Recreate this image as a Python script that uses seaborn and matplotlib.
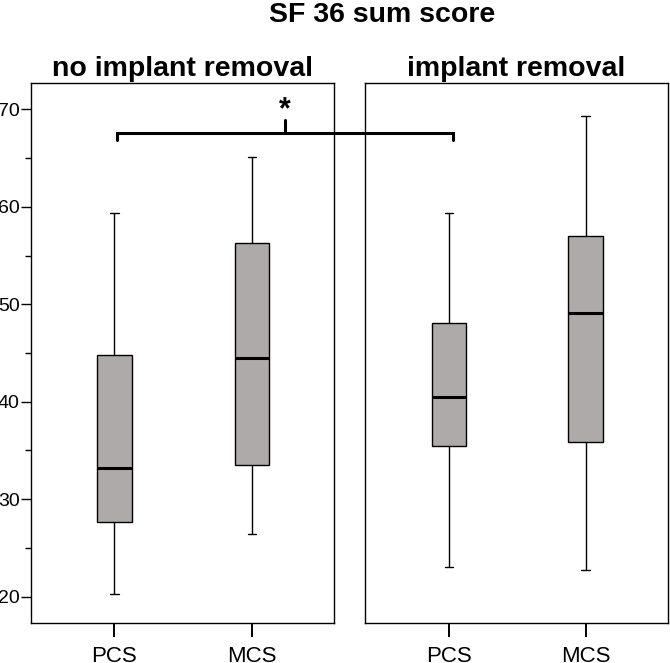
import pandas as pd
import matplotlib.pyplot as plt
import seaborn as sns
from matplotlib.ticker import MultipleLocator
from matplotlib.lines import Line2D

# five-number summaries: min, Q1, median, Q3, max
measures = ["PCS", "MCS"]
groups = ["no implant removal", "implant removal"]
pcs_no_removal = [20.3, 27.7, 33.2, 44.8, 59.4]
mcs_no_removal = [26.4, 33.5, 44.5, 56.3, 65.1]
pcs_removal = [23.0, 35.5, 40.5, 48.1, 59.4]
mcs_removal = [22.7, 35.9, 49.1, 57.0, 69.3]

rows = []
for grp, pcs, mcs in [(groups[0], pcs_no_removal, mcs_no_removal),
                      (groups[1], pcs_removal, mcs_removal)]:
    for m, vals in zip(measures, [pcs, mcs]):
        for v in vals:
            rows.append({"group": grp, "measure": m, "score": v})
df = pd.DataFrame(rows)

sns.set_style("white")
plt.rcParams["font.family"] = ["Liberation Sans", "DejaVu Sans"]
plt.rcParams["text.color"] = "black"

fig = plt.figure(figsize=(6.7, 6.63), dpi=100)
ax1 = fig.add_axes([0.0458, 0.0599, 0.4531, 0.8154])
ax2 = fig.add_axes([0.5452, 0.0599, 0.4513, 0.8154])

for ax, grp in zip([ax1, ax2], groups):
    sns.boxplot(data=df[df["group"] == grp], x="measure", y="score", order=measures,
                width=0.25, whis=(0, 100), color="#adaaa9", saturation=1,
                linecolor="black", linewidth=1.0, showfliers=False,
                medianprops=dict(linewidth=2.2, color="black"),
                capwidths=0.06, ax=ax)
    ax.set_xlim(-0.61, 1.6)
    ax.set_ylim(17.27, 72.73)
    ax.set_xlabel("")
    ax.set_ylabel("")
    for s in ax.spines.values():
        s.set_color("black")
        s.set_linewidth(1.0)
    ax.tick_params(axis="x", bottom=True, length=10, width=1.4, pad=6,
                   labelsize=16, color="black", labelcolor="black")
    # panel title
    pos = ax.get_position()
    fig.text((pos.x0 + pos.x1) / 2, 1 - 76 / 663, grp, ha="center", va="baseline",
             fontsize=20.5, fontweight="bold")

ax1.yaxis.set_major_locator(MultipleLocator(10))
ax1.yaxis.set_minor_locator(MultipleLocator(5))
ax1.tick_params(axis="y", which="major", left=True, length=7, width=1, pad=0.8,
                labelsize=14, color="black", labelcolor="black")
ax1.tick_params(axis="y", which="minor", left=True, length=4, width=1, color="black")
ax2.yaxis.set_major_locator(MultipleLocator(10))
ax2.tick_params(axis="y", which="both", left=False, labelleft=False)

# significance bracket from PCS (no removal) to PCS (removal)
fig.canvas.draw()
xl = 0.02
xr = ax1.transData.inverted().transform(ax2.transData.transform((0.03, 0)))[0]
xm = (xl + xr) / 2
fig.add_artist(Line2D([xl, xl, xr, xr], [66.9, 67.6, 67.6, 66.9], color="black",
                      lw=2.2, transform=ax1.transData, solid_joinstyle="miter", zorder=5))
fig.add_artist(Line2D([xm, xm], [67.6, 68.85], color="black", lw=2.2,
                      transform=ax1.transData, zorder=5))
ax1.text(xm, 69.1, "*", ha="center", va="baseline", fontsize=22, fontweight="bold")

fig.text(382 / 670, 1 - 22 / 663, "SF 36 sum score", ha="center", va="baseline",
         fontsize=20.5, fontweight="bold")

plt.savefig("out.png", dpi=100)
